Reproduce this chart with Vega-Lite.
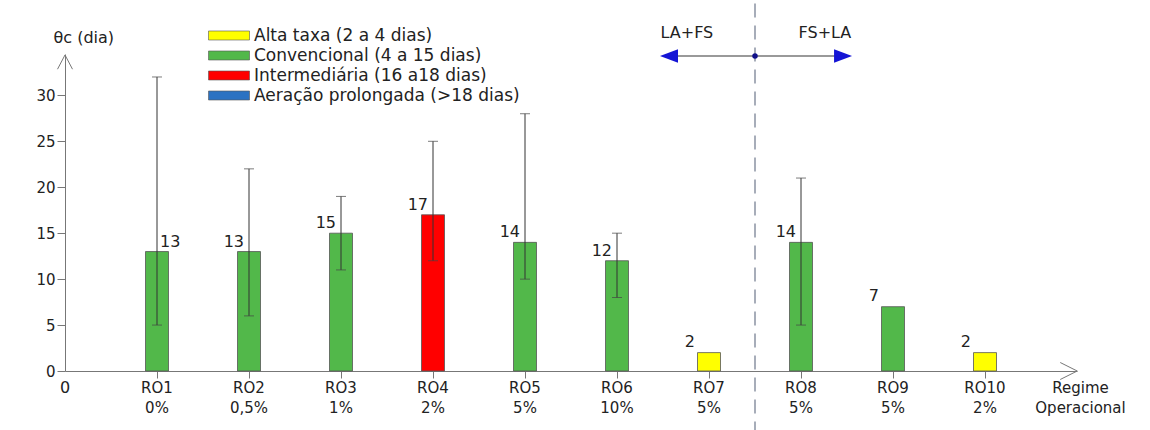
{
  "$schema": "https://vega.github.io/schema/vega-lite/v6.json",
  "width": 1012,
  "height": 317,
  "autosize": "none",
  "padding": {"left": 65, "top": 54, "right": 73, "bottom": 59},
  "background": "white",
  "config": {
    "font": "DejaVu Sans",
    "view": {"stroke": null},
    "axis": {"labelColor": "#222", "titleColor": "#222", "domainColor": "#777", "tickColor": "#777", "grid": false, "titleFontWeight": "normal"}
  },
  "datasets": {
    "regimes": [
      {"regime": "RO1 0%", "theta": 13, "min": 5, "max": 32, "classe": "Convencional (4 a 15 dias)"},
      {"regime": "RO2 0,5%", "theta": 13, "min": 6, "max": 22, "classe": "Convencional (4 a 15 dias)"},
      {"regime": "RO3 1%", "theta": 15, "min": 11, "max": 19, "classe": "Convencional (4 a 15 dias)"},
      {"regime": "RO4 2%", "theta": 17, "min": 12, "max": 25, "classe": "Intermediária (16 a18 dias)"},
      {"regime": "RO5 5%", "theta": 14, "min": 10, "max": 28, "classe": "Convencional (4 a 15 dias)"},
      {"regime": "RO6 10%", "theta": 12, "min": 8, "max": 15, "classe": "Convencional (4 a 15 dias)"},
      {"regime": "RO7 5%", "theta": 2, "min": null, "max": null, "classe": "Alta taxa (2 a 4 dias)"},
      {"regime": "RO8 5%", "theta": 14, "min": 5, "max": 21, "classe": "Convencional (4 a 15 dias)"},
      {"regime": "RO9 5%", "theta": 7, "min": null, "max": null, "classe": "Convencional (4 a 15 dias)"},
      {"regime": "RO10 2%", "theta": 2, "min": null, "max": null, "classe": "Alta taxa (2 a 4 dias)"}
    ]
  },
  "layer": [
    {
      "data": {"name": "regimes"},
      "encoding": {
        "x": {
          "field": "regime", "type": "nominal", "sort": null,
          "scale": {"paddingInner": 0, "paddingOuter": 0.5},
          "axis": {
            "labelExpr": "split(datum.label, ' ')",
            "labelAngle": 0, "labelFontSize": 15, "labelLineHeight": 20, "labelPadding": 2,
            "labelBaseline": "top", "labelOverlap": false, "tickSize": 7,
            "title": ["Regime", "Operacional"], "titleFontSize": 15, "titleLineHeight": 20,
            "titleX": 1015, "titleY": 9, "titleAlign": "center", "titleBaseline": "top", "titleAnchor": "start"
          }
        }
      },
      "layer": [
        {
          "mark": {"type": "bar", "width": {"band": 0.25}, "stroke": "#555", "strokeWidth": 0.8},
          "encoding": {
            "y": {
              "field": "theta", "type": "quantitative",
              "scale": {"domain": [0, 34.5], "nice": false, "zero": true},
              "axis": {
                "values": [0, 5, 10, 15, 20, 25, 30], "tickSize": 8, "labelPadding": 2, "labelFontSize": 15,
                "title": "θc (dia)", "titleAngle": 0, "titleAlign": "left", "titleBaseline": "middle",
                "titleX": -12, "titleY": -17, "titleFontSize": 16
              }
            },
            "color": {
              "field": "classe", "type": "nominal",
              "scale": {
                "domain": ["Alta taxa (2 a 4 dias)", "Convencional (4 a 15 dias)", "Intermediária (16 a18 dias)", "Aeração prolongada (>18 dias)"],
                "range": ["#ffff00", "#52b84a", "#ff0000", "#2b72c2"]
              },
              "legend": {
                "orient": "none", "legendX": 143, "legendY": -27, "title": null,
                "symbolType": "M-1,-0.22L1,-0.22L1,0.22L-1,0.22Z", "symbolSize": 1681,
                "symbolStrokeColor": "#555", "symbolStrokeWidth": 0.6,
                "labelFontSize": 17, "labelColor": "#222", "labelLimit": 400,
                "clipHeight": 17, "rowPadding": 2, "labelOffset": 4, "padding": 0
              }
            }
          }
        },
        {
          "transform": [{"filter": "isValid(datum.min)"}],
          "mark": {"type": "rule", "color": "#333", "strokeWidth": 1},
          "encoding": {"y": {"field": "min", "type": "quantitative"}, "y2": {"field": "max"}}
        },
        {
          "transform": [{"filter": "isValid(datum.min)"}],
          "mark": {"type": "tick", "color": "#444", "size": 10, "thickness": 1},
          "encoding": {"y": {"field": "min", "type": "quantitative"}}
        },
        {
          "transform": [{"filter": "isValid(datum.max)"}],
          "mark": {"type": "tick", "color": "#444", "size": 10, "thickness": 1},
          "encoding": {"y": {"field": "max", "type": "quantitative"}}
        },
        {
          "transform": [{"filter": "datum.regime === 'RO1 0%'"}],
          "mark": {"type": "text", "align": "left", "baseline": "middle", "dx": 3, "dy": -10, "fontSize": 16, "color": "#222"},
          "encoding": {"y": {"field": "theta", "type": "quantitative"}, "text": {"field": "theta", "type": "quantitative"}}
        },
        {
          "transform": [{"filter": "datum.regime !== 'RO1 0%' && isValid(datum.min)"}],
          "mark": {"type": "text", "align": "right", "baseline": "middle", "dx": -5, "dy": -10, "fontSize": 16, "color": "#222"},
          "encoding": {"y": {"field": "theta", "type": "quantitative"}, "text": {"field": "theta", "type": "quantitative"}}
        },
        {
          "transform": [{"filter": "!isValid(datum.min)"}],
          "mark": {"type": "text", "align": "right", "baseline": "middle", "dx": -14, "dy": -11, "fontSize": 16, "color": "#222"},
          "encoding": {"y": {"field": "theta", "type": "quantitative"}, "text": {"field": "theta", "type": "quantitative"}}
        }
      ]
    },
    {
      "data": {"values": [{}]},
      "layer": [
        {
          "mark": {"type": "rule", "color": "#a7adb9", "strokeWidth": 2, "strokeDash": [14, 8]},
          "encoding": {
            "x": {"datum": 7.5, "type": "quantitative", "scale": {"domain": [0, 11], "nice": false, "zero": false}, "axis": null},
            "y": {"datum": 40, "type": "quantitative"},
            "y2": {"datum": -6.5}
          }
        },
        {
          "mark": {"type": "rule", "color": "#999", "strokeWidth": 2},
          "encoding": {
            "x": {"datum": 6.565, "type": "quantitative", "scale": {"domain": [0, 11], "nice": false, "zero": false}, "axis": null},
            "x2": {"datum": 8.457},
            "y": {"datum": 34.28, "type": "quantitative"}
          }
        },
        {
          "mark": {"type": "point", "shape": "M-1,0L1,-0.75L1,0.75Z", "size": 324, "filled": true, "color": "#1515d5", "opacity": 1},
          "encoding": {
            "x": {"datum": 6.565, "type": "quantitative", "scale": {"domain": [0, 11], "nice": false, "zero": false}, "axis": null},
            "y": {"datum": 34.28, "type": "quantitative"}
          }
        },
        {
          "mark": {"type": "point", "shape": "M1,0L-1,-0.75L-1,0.75Z", "size": 324, "filled": true, "color": "#1515d5", "opacity": 1},
          "encoding": {
            "x": {"datum": 8.457, "type": "quantitative", "scale": {"domain": [0, 11], "nice": false, "zero": false}, "axis": null},
            "y": {"datum": 34.28, "type": "quantitative"}
          }
        },
        {
          "mark": {"type": "point", "shape": "circle", "size": 30, "filled": true, "color": "#10108a", "opacity": 1},
          "encoding": {
            "x": {"datum": 7.5, "type": "quantitative", "scale": {"domain": [0, 11], "nice": false, "zero": false}, "axis": null},
            "y": {"datum": 34.28, "type": "quantitative"}
          }
        },
        {
          "mark": {"type": "text", "text": "LA+FS", "fontSize": 16, "color": "#222", "baseline": "middle", "align": "center"},
          "encoding": {
            "x": {"datum": 6.76, "type": "quantitative", "scale": {"domain": [0, 11], "nice": false, "zero": false}, "axis": null},
            "y": {"datum": 36.8, "type": "quantitative"}
          }
        },
        {
          "mark": {"type": "text", "text": "FS+LA", "fontSize": 16, "color": "#222", "baseline": "middle", "align": "center"},
          "encoding": {
            "x": {"datum": 8.26, "type": "quantitative", "scale": {"domain": [0, 11], "nice": false, "zero": false}, "axis": null},
            "y": {"datum": 36.8, "type": "quantitative"}
          }
        },
        {
          "mark": {"type": "point", "shape": "M-1,1L0,-0.9L1,1", "size": 225, "filled": false, "color": "#777", "strokeWidth": 1, "opacity": 1},
          "encoding": {
            "x": {"datum": 0, "type": "quantitative", "scale": {"domain": [0, 11], "nice": false, "zero": false}, "axis": null},
            "y": {"datum": 33.66, "type": "quantitative"}
          }
        },
        {
          "mark": {"type": "point", "shape": "M-1,-1L1,0L-1,1", "size": 289, "filled": false, "color": "#777", "strokeWidth": 1, "opacity": 1},
          "encoding": {
            "x": {"datum": 10.91, "type": "quantitative", "scale": {"domain": [0, 11], "nice": false, "zero": false}, "axis": null},
            "y": {"datum": 0, "type": "quantitative"}
          }
        },
        {
          "mark": {"type": "text", "text": "0", "fontSize": 16, "color": "#222", "baseline": "middle", "align": "center", "dy": 17},
          "encoding": {
            "x": {"datum": 0, "type": "quantitative", "scale": {"domain": [0, 11], "nice": false, "zero": false}, "axis": null},
            "y": {"datum": 0, "type": "quantitative"}
          }
        }
      ]
    }
  ],
  "resolve": {"scale": {"x": "independent"}}
}
